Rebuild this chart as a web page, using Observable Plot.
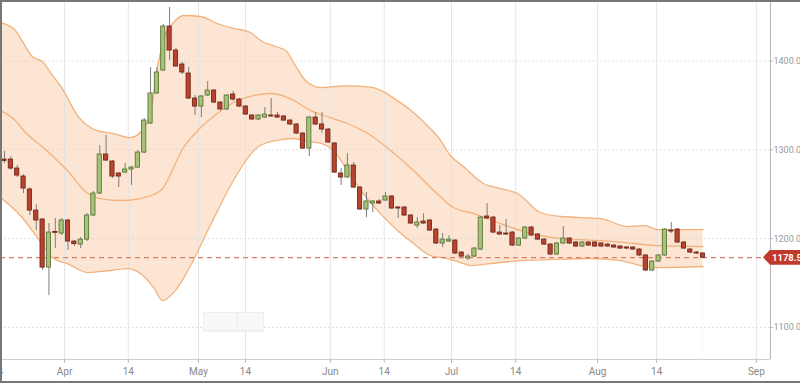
<!DOCTYPE html>
<html>
<head>
<meta charset="utf-8">
<script src="https://cdn.jsdelivr.net/npm/d3@7"></script>
<script src="https://cdn.jsdelivr.net/npm/@observablehq/plot@0.6"></script>
<style>
  html, body { margin: 0; padding: 0; background: #fff; }
  #wrap { position: relative; width: 800px; height: 383px; overflow: hidden; font-family: Roboto, "Noto Sans", sans-serif; }
  #border { position: absolute; left: 0; top: 0; width: 800px; height: 383px; box-sizing: border-box;
            border-top: 2px solid #777; border-left: 2px solid #777; border-bottom: 2px solid #777; pointer-events: none; }
  .zbtn { position: absolute; top: 312px; height: 19px; background: #f8f8f8; border: 1px solid #eeeeee; box-sizing: border-box;
          box-shadow: 0 1px 1px rgba(0,0,0,0.04); }
  #price { position: absolute; left: 763px; width: 40px; height: 15px; background: #c0392b; color: #fff;
           font: bold 9.5px Roboto, sans-serif; line-height: 15px; padding-left: 9px; box-sizing: border-box;
           clip-path: polygon(0 50%, 7px 0, 100% 0, 100% 100%, 7px 100%); white-space: nowrap; }
</style>
</head>
<body>
<div id="wrap"></div>
<script>
// ---- Candles (trading-day index 0..110) ----
const open  = [1289,1289.0,1278.9,1269.9,1255.3,1231.6,1221.5,1167.4,1207.5,1205.7,1220.4,1196.7,1193.3,1198.9,1226.0,1250.8,1294.7,1286.8,1273.3,1274.4,1277.8,1280.0,1296.9,1329.6,1363.4,1389.3,1438.8,1411.8,1396.0,1385.9,1357.7,1348.7,1361.1,1366.7,1353.2,1345.4,1362.2,1356.6,1348.7,1338.6,1334.1,1336.3,1338.6,1338.6,1337.5,1332.9,1328.5,1318.3,1301.4,1336.3,1328.5,1322.8,1307.1,1273.3,1268.8,1282.3,1257.5,1232.8,1239.5,1241.8,1242.9,1247.4,1235.0,1235.0,1226.0,1214.7,1219.2,1220.4,1210.2,1194.5,1196.7,1197.8,1184.3,1177.6,1179.8,1187.7,1224.9,1223.7,1206.8,1205.7,1206.8,1192.2,1200.1,1212.5,1204.6,1198.9,1193.3,1182.1,1194.5,1200.1,1195.6,1191.1,1195.6,1195.6,1194.5,1193.3,1192.2,1191.1,1190.0,1190.0,1187.7,1181.0,1164.1,1174.2,1181.0,1209.1,1210.2,1195.6,1187.7,1184.3,1183.2];
const high  = [1298.1,1292.4,1282.3,1272.2,1257.5,1238.4,1222.6,1217.0,1222.6,1222.6,1221.5,1197.8,1201.2,1228.2,1253.0,1304.8,1316.1,1287.9,1274.4,1284.5,1281.2,1299.2,1335.2,1392.6,1392.6,1441.1,1460.2,1414.0,1398.3,1392.6,1361.1,1361.1,1376.9,1367.9,1354.4,1362.2,1365.6,1357.7,1349.9,1339.7,1339.7,1347.6,1357.7,1342.0,1338.6,1334.1,1329.6,1319.5,1337.5,1342.0,1342.0,1324.0,1308.2,1278.9,1295.8,1285.7,1258.7,1251.9,1242.9,1244.0,1251.9,1248.5,1236.1,1236.1,1227.1,1223.7,1228.2,1221.5,1211.4,1205.7,1203.5,1198.9,1185.5,1182.1,1189.9,1224.9,1239.5,1224.9,1214.7,1221.5,1208.0,1201.2,1213.6,1213.6,1205.7,1200.1,1194.5,1195.6,1213.6,1201.2,1196.7,1196.7,1196.7,1196.7,1195.6,1194.5,1193.3,1192.2,1191.1,1191.1,1188.8,1182.1,1175.3,1182.1,1211.4,1218.1,1211.4,1196.7,1188.8,1185.5,1184.3];
const low   = [1284.5,1276.7,1268.8,1250.8,1226.0,1209.1,1164.1,1135.9,1188.8,1203.5,1186.6,1191.1,1188.8,1196.7,1224.9,1249.6,1286.8,1267.7,1257.5,1273.3,1259.8,1278.9,1295.8,1328.5,1362.2,1388.1,1400.5,1392.6,1384.8,1356.6,1338.6,1336.3,1360.0,1352.1,1344.2,1344.2,1354.4,1347.6,1338.6,1332.9,1332.9,1335.2,1336.3,1335.2,1331.8,1327.3,1317.2,1300.3,1292.4,1327.3,1318.3,1307.1,1273.3,1259.8,1267.7,1256.4,1231.6,1223.7,1229.4,1238.4,1241.8,1232.8,1222.6,1224.9,1215.9,1211.4,1215.9,1208.0,1193.3,1189.9,1195.6,1182.1,1178.7,1175.3,1178.7,1186.6,1221.5,1205.7,1203.5,1203.5,1191.1,1191.1,1198.9,1202.3,1197.8,1192.2,1180.9,1180.9,1193.3,1193.3,1189.9,1189.9,1191.1,1189.9,1189.9,1189.9,1188.8,1187.7,1187.7,1186.6,1179.8,1162.9,1162.9,1173.1,1179.8,1205.7,1194.5,1187.7,1183.2,1182.1,1177.6];
const close = [1287.5,1278.9,1271.0,1256.4,1231.6,1220.4,1167.4,1206.8,1206.5,1220.4,1196.7,1193.8,1198.9,1226.0,1250.8,1294.7,1287.9,1269.9,1269.9,1277.8,1280.0,1296.9,1332.9,1363.4,1387.0,1438.8,1411.8,1393.8,1387.0,1357.7,1348.7,1360.0,1366.7,1353.2,1345.4,1361.1,1356.6,1348.7,1339.7,1334.1,1338.6,1339.7,1337.5,1336.3,1332.9,1328.5,1318.3,1301.4,1336.3,1328.5,1322.8,1308.2,1274.4,1268.8,1282.3,1257.5,1232.8,1241.8,1241.8,1239.5,1247.4,1233.9,1233.9,1226.0,1217.0,1218.1,1217.0,1209.1,1194.5,1198.9,1198.9,1183.2,1179.8,1179.8,1188.8,1223.7,1222.6,1206.8,1204.6,1204.6,1192.2,1200.1,1212.5,1203.5,1198.9,1193.3,1182.1,1194.5,1200.1,1194.5,1191.1,1195.6,1192.2,1191.1,1191.1,1191.1,1190.0,1188.8,1188.8,1187.7,1181.0,1164.1,1174.2,1181.0,1210.2,1208.0,1195.6,1188.8,1184.3,1183.2,1178.5];
const lastClose = 1178.5;

// ---- Bollinger bands (index, value) ----
const upperX = [-0.63,1.42,4.57,5.98,7.24,9.29,11.5,14.6,17.2,19.8,21.4,23.0,24.3,25.4,26.5,28.2,30.9,33.5,36.1,38.7,40.6,42.7,44.3,45.8,47.4,49.8,54.0,57.6,59.5,61.1,63.9,66.6,68.7,70.2,72.1,75.4,78.1,80.8,84.4,87.6,93.9,98.1,100.9,102.8,106.5,110];
const upperV = [1443.3,1436.6,1403.9,1399.4,1387.0,1366.7,1338.6,1321.7,1318.3,1313.8,1319.5,1342.0,1400.5,1430.9,1442.2,1451.2,1450.1,1442.2,1436.6,1432.1,1421.9,1416.3,1411.8,1394.9,1378.0,1370.1,1372.0,1370.5,1366.0,1359.0,1345.0,1327.0,1310.4,1293.6,1282.3,1262.0,1256.4,1250.8,1229.4,1224.9,1222.6,1213.6,1214.7,1210.2,1210.2,1210.2];
const midX = [-0.63,1.73,3.0,6.1,9.9,13.1,15.1,18.3,21.4,24.6,28.2,30.9,33.5,36.7,39.2,41.9,45.0,48.2,51.3,54.0,57.2,60.8,64.4,67.6,70.7,73.9,78.1,81.3,84.4,87.6,93.9,99.1,102.8,110];
const midV = [1344.2,1332.9,1321.7,1302.6,1276.7,1250.8,1245.1,1242.9,1245.1,1254.1,1302.6,1325.1,1340.9,1355.5,1361.1,1363.4,1357.7,1344.2,1336.3,1329.6,1318.3,1299.2,1276.7,1254.1,1235.0,1228.2,1217.0,1209.1,1203.5,1200.1,1197.8,1194.5,1192.2,1191.1];
const lowerX = [-0.63,2.5,6.1,7.7,9.9,13.1,16.7,19.4,21.4,23.5,24.9,26.9,29.3,32.4,35.6,38.0,40.0,42.7,45.5,47.7,49.8,51.8,54.0,56.5,59.2,61.9,64.4,67.1,69.8,71.8,73.4,76.5,81.3,86.0,92.3,97.0,100.2,103.3,110];
const lowerV = [1246.3,1226.0,1192.2,1177.6,1171.9,1161.8,1164.1,1166.3,1160.7,1144.9,1130.3,1141.5,1169.7,1214.7,1259.8,1287.9,1303.7,1310.4,1312.7,1309.3,1307.1,1299.2,1276.7,1250.8,1228.2,1209.1,1194.5,1180.9,1177.6,1173.1,1169.7,1171.9,1175.3,1176.4,1177.6,1175.3,1169.7,1167.4,1168.6];

// ---- Axis ticks ----
const xTickPos = [-1.1,9.45,19.5,30.55,37.95,51.3,59.8,70.4,80.5,93.4,102.7,118.4];
const xTickLabels = ["14","Apr","14","May","14","Jun","14","Jul","14","Aug","14","Sep"];
const yTicks = [1100,1200,1300,1400];

const candles = open.map((o, i) => ({i, open: o, high: high[i], low: low[i], close: close[i]}));
const upper = upperX.map((x, k) => ({x, v: upperV[k]}));
const mid = midX.map((x, k) => ({x, v: midV[k]}));
const lower = lowerX.map((x, k) => ({x, v: lowerV[k]}));

const xDomain = [-0.63, 120.63];
const yDomain = [1063.9, 1468.1];
const up = d => d.close >= d.open;

const chart = Plot.plot({
  width: 800, height: 383,
  marginLeft: 0, marginRight: 30, marginTop: 0, marginBottom: 24,
  style: {fontFamily: "Roboto, sans-serif", fontSize: "10px", color: "#999", background: "#fff", overflow: "hidden"},
  x: {domain: xDomain, axis: null},
  y: {domain: yDomain, axis: null},
  marks: [
    Plot.areaY(upper, {x: "x", y1: yDomain[0], y2: "v", fill: "#fde5d3", curve: "monotone-x", clip: true}),
    Plot.areaY(lower, {x: "x", y1: yDomain[0], y2: "v", fill: "#ffffff", curve: "monotone-x", clip: true}),
    Plot.gridY(yTicks, {stroke: "#d8d8d8", strokeOpacity: 0.8, strokeDasharray: "2,2"}),
    Plot.gridX(xTickPos, {stroke: "#e2e2e2", strokeOpacity: 0.9}),
    Plot.lineY(upper, {x: "x", y: "v", stroke: "#f1b27c", strokeWidth: 1.3, curve: "monotone-x", clip: true}),
    Plot.lineY(mid, {x: "x", y: "v", stroke: "#f1b27c", strokeWidth: 1.3, curve: "monotone-x", clip: true}),
    Plot.lineY(lower, {x: "x", y: "v", stroke: "#f1b27c", strokeWidth: 1.3, curve: "monotone-x", clip: true}),
    Plot.ruleY([lastClose], {stroke: "#dc7b67", strokeWidth: 1.2, strokeDasharray: "5,4"}),
    Plot.ruleX(candles, {x: "i", y1: "low", y2: "high", stroke: "#7d7d7d", strokeWidth: 1}),
    Plot.rect(candles, {
      x1: d => d.i - 0.33, x2: d => d.i + 0.33, y1: "open", y2: "close",
      fill: d => up(d) ? "#a8c27a" : "#b8432e",
      stroke: d => up(d) ? "#5b7538" : "#74281b", strokeWidth: 0.9
    }),
    Plot.ruleY([yDomain[0]], {stroke: "#cfcfcf"}),
    Plot.ruleX([xDomain[1]], {stroke: "#b5b5b5"}),
    Plot.axisX(xTickPos, {tickFormat: (d, k) => xTickLabels[k], tickSize: 4, tickPadding: 4, stroke: "#bbb", fill: "#888", fontSize: 10}),
    Plot.axisY(yTicks, {anchor: "right", tickFormat: d3.format(".1f"), tickSize: 2, tickPadding: 1, stroke: "#bbb", fill: "#999", fontSize: 9})
  ]
});

const wrap = document.getElementById("wrap");
wrap.appendChild(chart);

const z1 = document.createElement("div"); z1.className = "zbtn"; z1.style.left = "203px"; z1.style.width = "35px"; wrap.appendChild(z1);
const z2 = document.createElement("div"); z2.className = "zbtn"; z2.style.left = "237px"; z2.style.width = "27px"; wrap.appendChild(z2);

const py = chart.scale("y").apply(lastClose);
const price = document.createElement("div");
price.id = "price";
price.style.top = (py - 7.5) + "px";
price.textContent = d3.format(".2f")(lastClose);
wrap.appendChild(price);

const border = document.createElement("div"); border.id = "border"; wrap.appendChild(border);
</script>
</body>
</html>
